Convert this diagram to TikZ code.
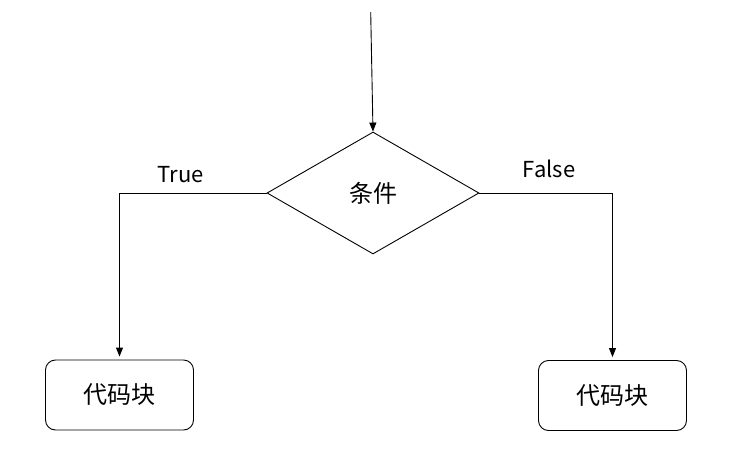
\documentclass[tikz,border=0pt]{standalone}
\usepackage{fontspec}
\setmainfont{Noto Sans CJK SC}
\usetikzlibrary{shapes.geometric,arrows.meta}
\tikzset{
  flow/.style={line width=0.9pt,-{Triangle[length=9pt,width=7pt]}},
  blockbox/.style={draw,line width=0.9pt,rounded corners=10pt,minimum width=148pt,minimum height=70pt,inner sep=0pt,font=\fontsize{24}{26}\selectfont},
}
\begin{document}
\begin{tikzpicture}[x=1pt,y=-1pt]
\useasboundingbox (0,0) rectangle (732,458);
\node[draw,diamond,line width=0.9pt,minimum width=212pt,minimum height=122pt,inner sep=0pt,font=\fontsize{24}{26}\selectfont] (cond) at (373,193) {条件};
\node[blockbox] (blkT) at (119.5,395) {代码块};
\node[blockbox] (blkF) at (612.5,395.5) {代码块};
\coordinate (start) at (370.7,12);
\draw[flow] (start) -- (cond.north);
\draw[flow,shorten >=3pt] (cond.west) -| (blkT.north);
\draw[flow,shorten >=3pt] (cond.east) -| (blkF.north);
\node[font=\fontsize{22}{24}\selectfont] (lblT) at (180.5,175) {True};
\node[font=\fontsize{22}{24}\selectfont] (lblF) at (549,169) {False};
\end{tikzpicture}
\end{document}
